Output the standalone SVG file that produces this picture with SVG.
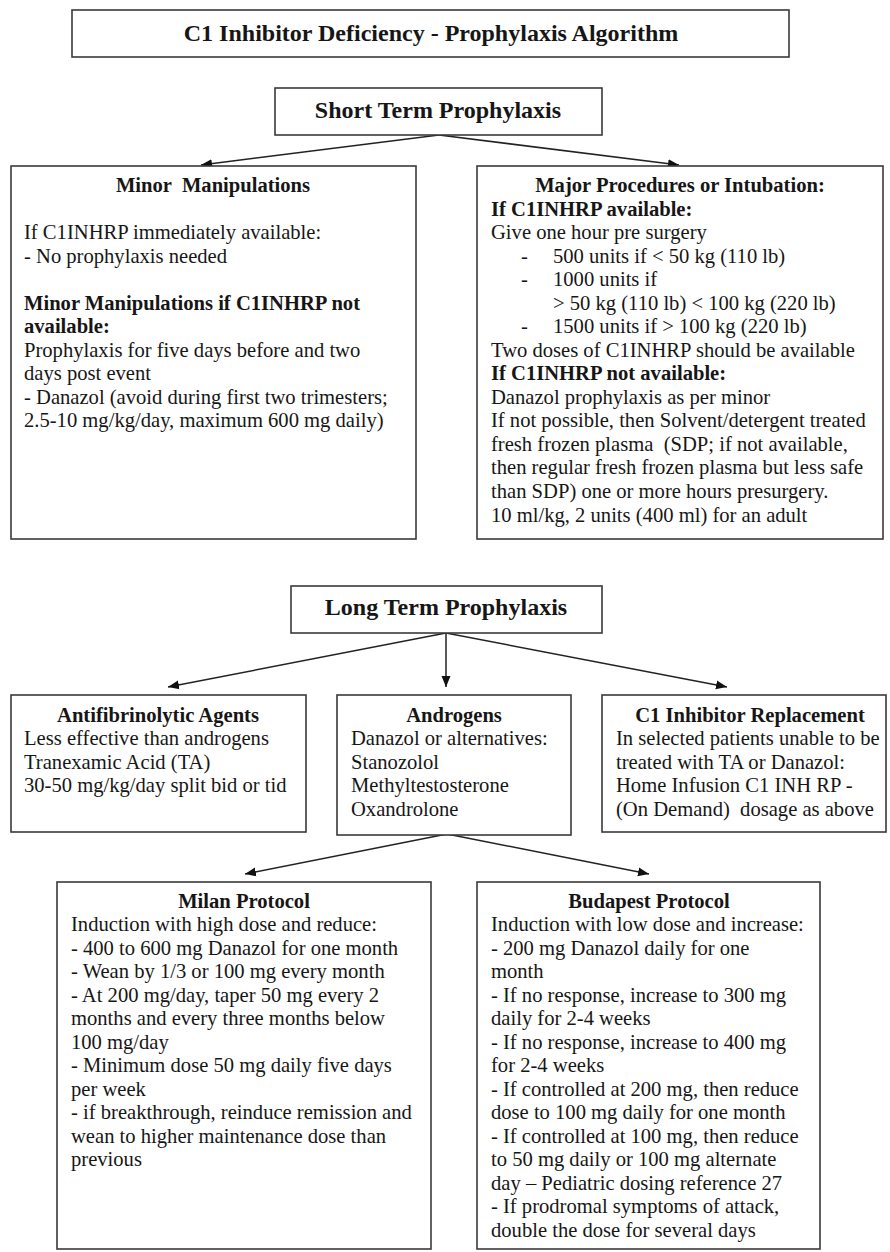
<svg xmlns="http://www.w3.org/2000/svg" width="890" height="1252" viewBox="0 0 890 1252">
<style>
.box{fill:#fff;stroke:#3a3a3a;stroke-width:1.6}
.t{font-family:"Liberation Serif","Times New Roman",serif;font-size:20.6px;fill:#161616;white-space:pre}
.h{font-family:"Liberation Serif","Times New Roman",serif;font-size:20.6px;font-weight:bold;fill:#161616;text-anchor:middle}
.hl{font-family:"Liberation Serif","Times New Roman",serif;font-size:24px;font-weight:bold;fill:#161616;text-anchor:middle}
.hb{font-family:"Liberation Serif","Times New Roman",serif;font-size:20.6px;font-weight:bold;fill:#161616}
.c{fill:none;stroke:#222;stroke-width:1.5}
</style>
<defs>
<marker id="ah" markerUnits="userSpaceOnUse" markerWidth="12" markerHeight="10" refX="11" refY="5" orient="auto">
<path d="M0,0.5 L11,5 L0,9.5 Z" fill="#111"/>
</marker>
</defs>

<g id="connectors">
<line class="c" x1="439" y1="135" x2="201" y2="165" marker-end="url(#ah)"/>
<line class="c" x1="439" y1="135" x2="679" y2="165" marker-end="url(#ah)"/>
<line class="c" x1="446" y1="633" x2="168" y2="687" marker-end="url(#ah)"/>
<line class="c" x1="446" y1="633" x2="446" y2="687" marker-end="url(#ah)"/>
<line class="c" x1="446" y1="633" x2="727" y2="687" marker-end="url(#ah)"/>
<line class="c" x1="447" y1="834" x2="245" y2="874" marker-end="url(#ah)"/>
<line class="c" x1="447" y1="834" x2="649" y2="874" marker-end="url(#ah)"/>
</g>

<g id="title">
<rect class="box" x="72" y="10" width="717" height="47"/>
<text class="hl" x="431" y="41">C1 Inhibitor Deficiency - Prophylaxis Algorithm</text>
</g>

<g id="short-term">
<rect class="box" x="275" y="88" width="327" height="47"/>
<text class="hl" x="438" y="118">Short Term Prophylaxis</text>
</g>

<g id="minor">
<rect class="box" x="11" y="166" width="405" height="373"/>
<text class="h" x="213" y="192" style="white-space:pre">Minor  Manipulations</text>
<text class="t" x="24" y="239">If C1INHRP immediately available:</text>
<text class="t" x="24" y="263">- No prophylaxis needed</text>
<text class="hb" x="24" y="310">Minor Manipulations if C1INHRP not</text>
<text class="hb" x="24" y="333">available:</text>
<text class="t" x="24" y="357">Prophylaxis for five days before and two</text>
<text class="t" x="24" y="380">days post event</text>
<text class="t" x="24" y="404">- Danazol (avoid during first two trimesters;</text>
<text class="t" x="24" y="427">2.5-10 mg/kg/day, maximum 600 mg daily)</text>
</g>

<g id="major">
<rect class="box" x="477" y="166" width="406" height="373"/>
<text class="h" x="680" y="192">Major Procedures or Intubation:</text>
<text class="hb" x="491" y="216">If C1INHRP available:</text>
<text class="t" x="491" y="239">Give one hour pre surgery</text>
<text class="t" x="521" y="263">-</text>
<text class="t" x="553" y="263">500 units if &lt; 50 kg (110 lb)</text>
<text class="t" x="521" y="286">-</text>
<text class="t" x="553" y="286">1000 units if</text>
<text class="t" x="553" y="310">&gt; 50 kg (110 lb) &lt; 100 kg (220 lb)</text>
<text class="t" x="521" y="333">-</text>
<text class="t" x="553" y="333">1500 units if &gt; 100 kg (220 lb)</text>
<text class="t" x="491" y="357">Two doses of C1INHRP should be available</text>
<text class="hb" x="491" y="380">If C1INHRP not available:</text>
<text class="t" x="491" y="404">Danazol prophylaxis as per minor</text>
<text class="t" x="491" y="427">If not possible, then Solvent/detergent treated</text>
<text class="t" x="491" y="451">fresh frozen plasma  (SDP; if not available,</text>
<text class="t" x="491" y="474">then regular fresh frozen plasma but less safe</text>
<text class="t" x="491" y="498">than SDP) one or more hours presurgery.</text>
<text class="t" x="491" y="522">10 ml/kg, 2 units (400 ml) for an adult</text>
</g>

<g id="long-term">
<rect class="box" x="291" y="586" width="311" height="47"/>
<text class="hl" x="446" y="615">Long Term Prophylaxis</text>
</g>

<g id="antifibrinolytic">
<rect class="box" x="11" y="695" width="295" height="137"/>
<text class="h" x="158" y="722">Antifibrinolytic Agents</text>
<text class="t" x="24" y="745">Less effective than androgens</text>
<text class="t" x="24" y="769">Tranexamic Acid (TA)</text>
<text class="t" x="24" y="792">30-50 mg/kg/day split bid or tid</text>
</g>

<g id="androgens">
<rect class="box" x="337" y="695" width="234" height="140"/>
<text class="h" x="454" y="722">Androgens</text>
<text class="t" x="351" y="745">Danazol or alternatives:</text>
<text class="t" x="351" y="769">Stanozolol</text>
<text class="t" x="351" y="792">Methyltestosterone</text>
<text class="t" x="351" y="816">Oxandrolone</text>
</g>

<g id="c1-replacement">
<rect class="box" x="602" y="695" width="284" height="137"/>
<text class="h" x="750" y="722">C1 Inhibitor Replacement</text>
<text class="t" x="616" y="745">In selected patients unable to be</text>
<text class="t" x="616" y="769">treated with TA or Danazol:</text>
<text class="t" x="616" y="792">Home Infusion C1 INH RP -</text>
<text class="t" x="616" y="816">(On Demand)  dosage as above</text>
</g>

<g id="milan">
<rect class="box" x="57" y="882" width="374" height="367"/>
<text class="h" x="244" y="908">Milan Protocol</text>
<text class="t" x="71" y="931">Induction with high dose and reduce:</text>
<text class="t" x="71" y="955">- 400 to 600 mg Danazol for one month</text>
<text class="t" x="71" y="978">- Wean by 1/3 or 100 mg every month</text>
<text class="t" x="71" y="1002">- At 200 mg/day, taper 50 mg every 2</text>
<text class="t" x="71" y="1025">months and every three months below</text>
<text class="t" x="71" y="1049">100 mg/day</text>
<text class="t" x="71" y="1072">- Minimum dose 50 mg daily five days</text>
<text class="t" x="71" y="1096">per week</text>
<text class="t" x="71" y="1119">- if breakthrough, reinduce remission and</text>
<text class="t" x="71" y="1143">wean to higher maintenance dose than</text>
<text class="t" x="71" y="1166">previous</text>
</g>

<g id="budapest">
<rect class="box" x="477" y="882" width="343" height="367"/>
<text class="h" x="649" y="908">Budapest Protocol</text>
<text class="t" x="491" y="931">Induction with low dose and increase:</text>
<text class="t" x="491" y="955">- 200 mg Danazol daily for one</text>
<text class="t" x="491" y="978">month</text>
<text class="t" x="491" y="1002">- If no response, increase to 300 mg</text>
<text class="t" x="491" y="1025">daily for 2-4 weeks</text>
<text class="t" x="491" y="1049">- If no response, increase to 400 mg</text>
<text class="t" x="491" y="1072">for 2-4 weeks</text>
<text class="t" x="491" y="1096">- If controlled at 200 mg, then reduce</text>
<text class="t" x="491" y="1119">dose to 100 mg daily for one month</text>
<text class="t" x="491" y="1143">- If controlled at 100 mg, then reduce</text>
<text class="t" x="491" y="1166">to 50 mg daily or 100 mg alternate</text>
<text class="t" x="491" y="1190">day – Pediatric dosing reference 27</text>
<text class="t" x="491" y="1213">- If prodromal symptoms of attack,</text>
<text class="t" x="491" y="1237">double the dose for several days</text>
</g>
</svg>
